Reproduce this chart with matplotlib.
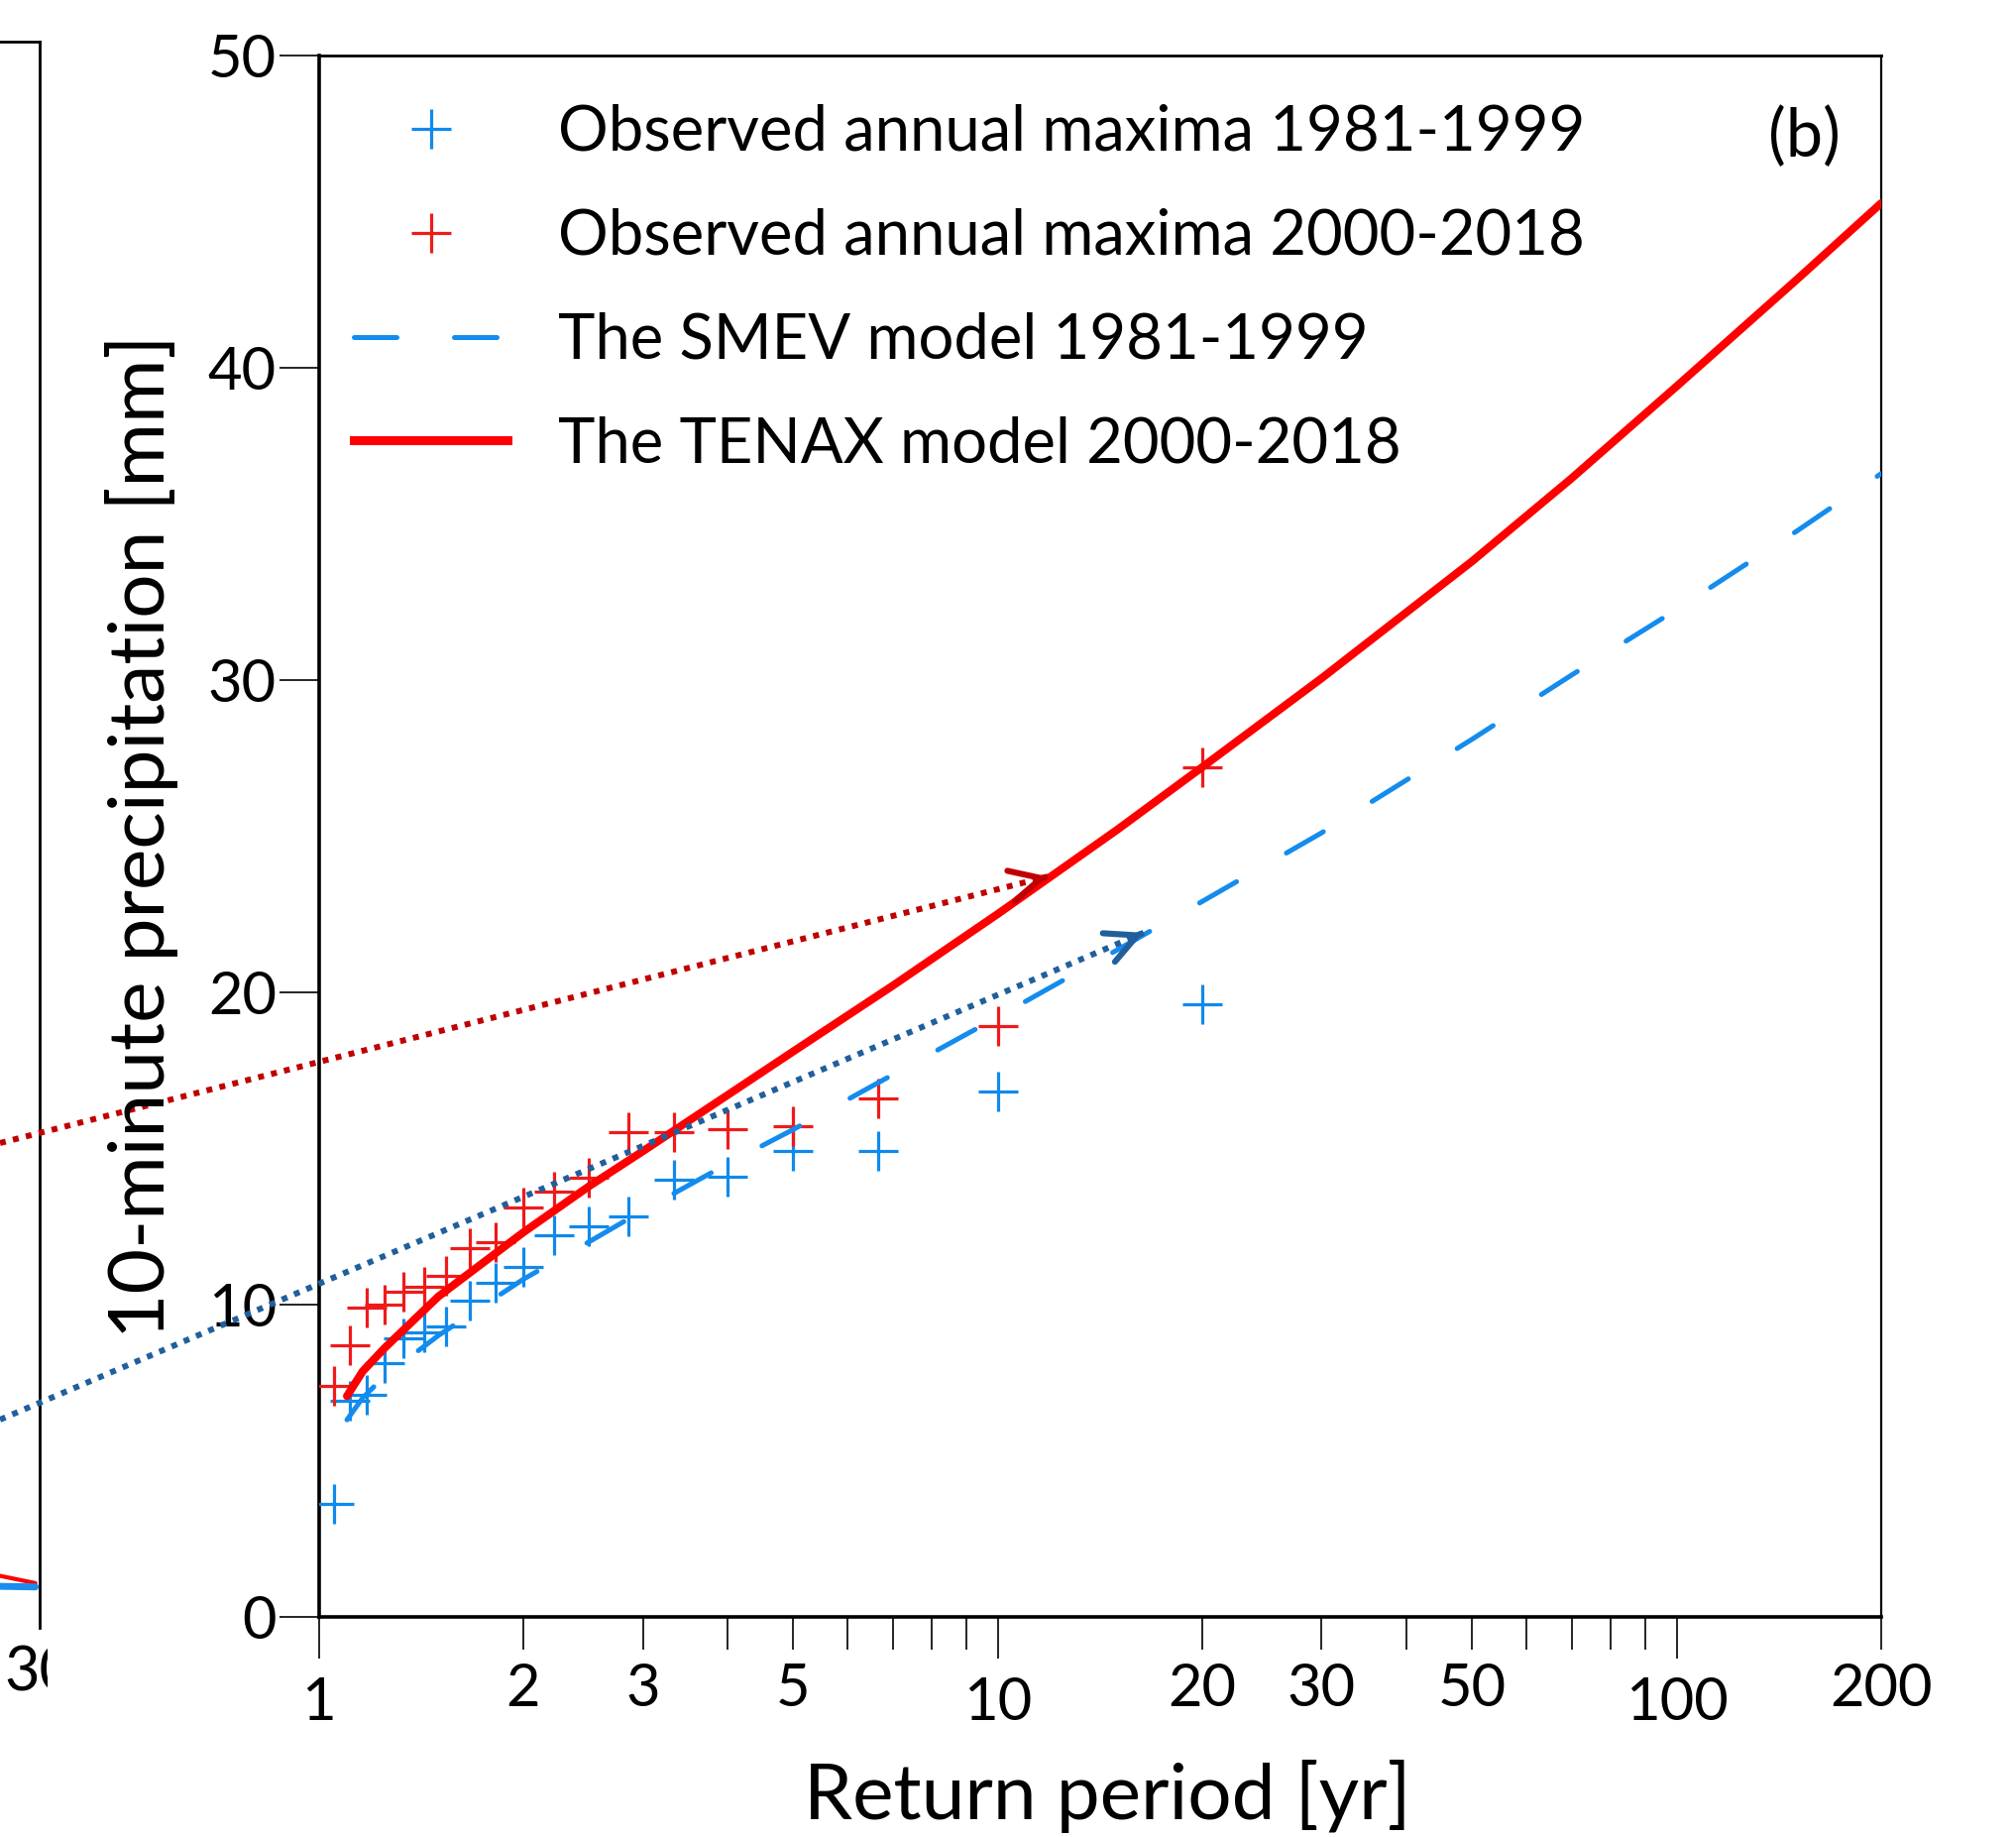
import numpy as np
import matplotlib
matplotlib.use("Agg")
import matplotlib.pyplot as plt
from matplotlib.lines import Line2D
from matplotlib.patches import Rectangle

plt.rcParams['font.family'] = ['Lato', 'DejaVu Sans']

# ---------------- data ----------------
return_period_obs = [20.0, 10.0, 6.667, 5.0, 4.0, 3.333, 2.857, 2.5, 2.222, 2.0,
                     1.818, 1.667, 1.538, 1.429, 1.333, 1.25, 1.176, 1.111, 1.053]
obs_1981_1999 = [19.6, 16.8, 14.9, 14.9, 14.1, 14.0, 12.8, 12.5, 12.2, 11.2,
                 10.7, 10.1, 9.3, 9.1, 8.9, 8.1, 7.1, 6.9, 3.6]
obs_2000_2018 = [27.2, 18.9, 16.6, 15.7, 15.6, 15.5, 15.5, 14.05, 13.6, 13.1,
                 12.0, 11.8, 10.9, 10.55, 10.4, 10.0, 9.9, 8.7, 7.4]

model_T = [1.1, 1.16, 1.25, 1.5, 2, 2.5, 3, 4, 5, 7, 10, 15, 20, 30, 50, 70, 100, 150, 200]
smev_1981_1999 = [6.3, 7.0, 7.7, 9.0, 10.8, 12.0, 13.0, 14.5, 15.6, 17.35, 19.2,
                  21.35, 22.9, 25.1, 28.1, 30.15, 32.25, 34.75, 36.6]
tenax_2000_2018 = [7.06, 7.85, 8.6, 10.25, 12.3, 13.78, 14.9, 16.7, 18.1, 20.2, 22.5,
                   25.2, 27.2, 30.05, 33.8, 36.45, 39.4, 42.8, 45.26]

# arrows pointing at the model curves
red_arrow_tip = (11.85, 23.7)
blue_arrow_tip = (16.4, 21.9)

# fragment of the neighbouring panel (a)
frag_x = [28.0, 29.8]
frag_red = [1.65, 1.4]
frag_blue = [1.3, 1.28]

labels = ['Observed annual maxima 1981-1999', 'Observed annual maxima 2000-2018',
          'The SMEV model 1981-1999', 'The TENAX model 2000-2018']
x_major = [1, 10, 100]
x_major_labels = ['1', '10', '100']
x_minor = [2, 3, 4, 5, 6, 7, 8, 9, 20, 30, 40, 50, 60, 70, 80, 90, 200]
x_minor_labels = ['2', '3', '', '5', '', '', '', '', '20', '30', '', '50', '', '', '', '', '200']
y_ticks = [0, 10, 20, 30, 40, 50]

# ---------------- styles ----------------
C_BLUE_OBS = '#0f8aec'
C_RED_OBS = '#f01a1a'
C_BLUE_LINE = '#138cee'
C_RED_LINE = '#ff0000'
C_RED_DOT = '#c00000'
C_BLUE_DOT = '#215f9c'

W, H = 2034, 1853
def fx(px):
    return px / W
def fy(py):
    return 1 - py / H

fig = plt.figure(figsize=(W / 100, H / 100), dpi=100)

# ---- fragment of panel (a) on the far left ----
ax0 = fig.add_axes([fx(-610), fy(1641.7), fx(650), fy(41.7) - fy(1641.7)])
ax0.set_xlim(0, 30)
ax0.set_ylim(0, 50)
for s in ['left', 'bottom']:
    ax0.spines[s].set_visible(False)
for s in ['top', 'right']:
    ax0.spines[s].set_linewidth(2.0)
ax0.set_xticks([])
ax0.set_yticks([])
ax0.plot(frag_x, frag_red, color=C_RED_LINE, lw=3, solid_capstyle='round')
ax0.plot(frag_x, frag_blue, color='#1a8cf0', lw=5, solid_capstyle='round')
fig.text(fx(40), fy(1660), '30', ha='center', va='top', fontsize=44)
fig.patches.append(Rectangle((fx(48), fy(1745)), fx(200) - fx(48), fy(1645) - fy(1745),
                             transform=fig.transFigure, facecolor='white',
                             edgecolor='none', zorder=5))

# ---- main panel (b) ----
ax = fig.add_axes([fx(321.7), fy(1630.6), fx(1897.8) - fx(321.7), fy(55.8) - fy(1630.6)])
ax.set_xscale('log')
ax.set_xlim(1, 200)
ax.set_ylim(0, 50)

ms = 29.5
mew = 2.3
ax.plot(return_period_obs, obs_1981_1999, ls='none', marker='+', ms=ms, mew=mew,
        color=C_BLUE_OBS, zorder=3)
ax.plot(return_period_obs, obs_2000_2018, ls='none', marker='+', ms=ms, mew=mew,
        color=C_RED_OBS, zorder=3)
ax.plot(model_T, smev_1981_1999, color=C_BLUE_LINE, lw=3.6, ls=(0, (8.6, 11.6)),
        dash_capstyle='round', zorder=4)
ax.plot(model_T, tenax_2000_2018, color=C_RED_LINE, lw=5.8, solid_capstyle='round',
        solid_joinstyle='round', zorder=5)

ax.set_xticks(x_major, labels=x_major_labels)
ax.set_xticks(x_minor, labels=x_minor_labels, minor=True)
ax.set_yticks(y_ticks)
ax.tick_params(axis='y', which='major', length=28.8, width=1.2, pad=2, labelsize=43)
ax.tick_params(axis='x', which='major', length=30.5, width=1.2, pad=13, labelsize=43)
ax.tick_params(axis='x', which='minor', length=23.5, width=1.2, pad=10, labelsize=43)
ax.spines['left'].set_linewidth(2.6)
ax.spines['bottom'].set_linewidth(2.6)
ax.spines['top'].set_linewidth(2.0)
ax.spines['right'].set_linewidth(1.6)

fig.text(fx(143), fy(844), '10-minute precipitation [mm]', rotation=90,
         ha='center', va='center', fontsize=56.5)
fig.text(fx(1117), fy(1835), 'Return period [yr]', ha='center', va='baseline', fontsize=56.5)
fig.text(fx(1857), fy(139), '(b)', ha='right', va='center', fontsize=48)

handles = [
    Line2D([], [], ls='none', marker='+', ms=ms, mew=mew, color=C_BLUE_OBS),
    Line2D([], [], ls='none', marker='+', ms=ms, mew=mew, color=C_RED_OBS),
    Line2D([], [], color=C_BLUE_LINE, lw=3.6, ls=(0, (8.6, 11.6)), dash_capstyle='round'),
    Line2D([], [], color=C_RED_LINE, lw=6.5),
]
leg = ax.legend(handles, labels, loc='upper left', bbox_to_anchor=(fx(357), fy(105)),
                bbox_transform=fig.transFigure, frameon=False, fontsize=45.6,
                borderpad=0, borderaxespad=0, handlelength=2.45, handletextpad=0.81,
                labelspacing=0.74)

# ---- dotted arrows coming from panel (a) ----
def dotted_arrow(tip, start_px, color):
    start = (fx(start_px[0]), fy(start_px[1]))
    ax.annotate('', xy=tip, xycoords='data', xytext=start, textcoords='figure fraction',
                arrowprops=dict(arrowstyle='-', color=color, lw=4.3, linestyle=(0, (1, 1.25)),
                                shrinkA=0, shrinkB=0, capstyle='butt'),
                annotation_clip=False, zorder=10)
    tip_d = ax.transData.transform(tip)
    st_d = fig.transFigure.transform(start)
    d = tip_d - st_d
    d = d / np.hypot(*d)
    tail = ax.transData.inverted().transform(tip_d - d * 3)
    ax.annotate('', xy=tip, xycoords='data', xytext=tail, textcoords='data',
                arrowprops=dict(arrowstyle='->,head_length=0.9,head_width=0.45', color=color,
                                lw=4.4, shrinkA=0, shrinkB=0, mutation_scale=25,
                                capstyle='round', joinstyle='miter'),
                annotation_clip=False, zorder=11)

dotted_arrow(red_arrow_tip, (0, 1153), C_RED_DOT)
dotted_arrow(blue_arrow_tip, (0, 1432), C_BLUE_DOT)

fig.savefig('out.png', dpi=100, facecolor='white')
